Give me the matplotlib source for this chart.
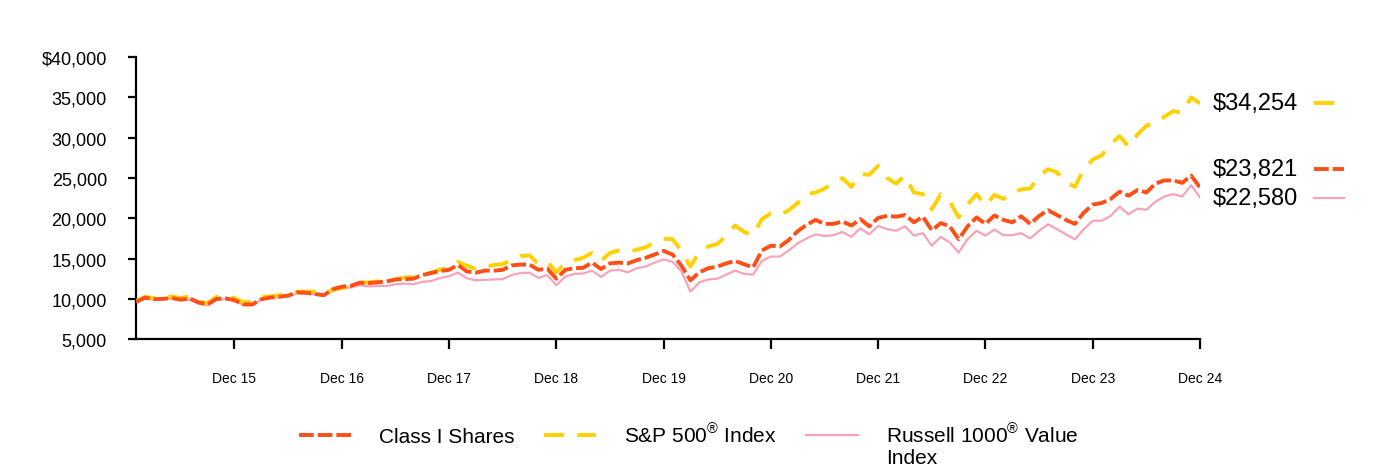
import matplotlib
matplotlib.use("Agg")
import matplotlib.pyplot as plt
import matplotlib.transforms as mtransforms
from matplotlib.lines import Line2D
from matplotlib.ticker import FuncFormatter
import numpy as np

plt.rcParams['font.family'] = ['Liberation Sans', 'DejaVu Sans']
plt.rcParams['mathtext.fontset'] = 'custom'
plt.rcParams['mathtext.rm'] = 'Liberation Sans'

# monthly values, Jan 2015 .. Dec 2024
class_i = [
    9600, 10150, 9950, 10000, 10100, 9900, 10050, 9550, 9300, 10000, 10050, 9850,
    9300, 9300, 9950, 10150, 10250, 10400, 10800, 10750, 10600, 10450, 11200, 11500,
    11600, 12000, 11950, 12050, 12150, 12400, 12450, 12500, 12950, 13200, 13450, 13600,
    14200, 13400, 13250, 13500, 13500, 13600, 14150, 14250, 14250, 13600, 13750, 12500,
    13600, 13800, 13850, 14500, 13700, 14400, 14500, 14400, 14800, 15100, 15500, 15950,
    15500, 14100, 12300, 13300, 13800, 14000, 14400, 14700, 14300, 13900, 16000, 16600,
    16500, 17300, 18400, 19200, 19800, 19300, 19300, 19600, 19100, 19900, 19000, 20050,
    20300, 20200, 20400, 19500, 20200, 18500, 19400, 19000, 17400, 19000, 20100, 19300,
    20350, 19800, 19500, 20250, 19300, 20300, 21000, 20400, 19800, 19300, 20700, 21700,
    21900, 22400, 23300, 22800, 23500, 23200, 24300, 24700, 24700, 24400, 25300, 23821,
]
sp500 = [
    9700, 10250, 10100, 10200, 10300, 10100, 10300, 9700, 9450, 10250, 10300, 10100,
    9600, 9600, 10250, 10300, 10450, 10500, 10900, 10900, 10900, 10700, 11100, 11350,
    11550, 12000, 12050, 12150, 12300, 12400, 12650, 12700, 12950, 13250, 13650, 13800,
    14600, 14100, 13700, 13900, 14200, 14300, 14800, 15300, 15400, 14300, 14600, 13300,
    14400, 14800, 15100, 15700, 14700, 15700, 16000, 15800, 16100, 16400, 17000, 17450,
    17400, 16000, 14000, 15800, 16500, 16800, 17800, 19100, 18300, 17900, 19900, 20600,
    20400, 21000, 21900, 23000, 23200, 23700, 24300, 25000, 23900, 25500, 25400, 26500,
    25000, 24300, 25300, 23200, 23000, 21100, 23000, 22100, 20100, 21700, 23000, 21600,
    22900, 22400, 23200, 23600, 23700, 25200, 26100, 25700, 24500, 23900, 26100, 27300,
    27800, 29200, 30200, 28900, 30400, 31500, 31800, 32600, 33300, 33100, 35000, 34254,
]
russell = [
    9600, 10050, 9900, 9950, 10050, 9850, 9900, 9400, 9200, 9900, 9950, 9800,
    9250, 9200, 9900, 10100, 10200, 10300, 10700, 10650, 10550, 10450, 11000, 11300,
    11400, 11700, 11550, 11600, 11600, 11800, 11900, 11800, 12100, 12200, 12600, 12800,
    13250, 12550, 12300, 12350, 12400, 12450, 12950, 13200, 13250, 12600, 12950, 11700,
    12750, 13100, 13150, 13500, 12700, 13500, 13600, 13300, 13800, 14000, 14500, 14900,
    14600, 13400, 10900, 12050, 12400, 12500, 13000, 13500, 13100, 13000, 14700, 15250,
    15250, 16000, 16900, 17500, 18000, 17800, 17900, 18300, 17700, 18750, 18000, 19050,
    18650, 18450, 19000, 17850, 18150, 16600, 17700, 17000, 15750, 17400, 18450, 17850,
    18600, 17900, 17900, 18150, 17500, 18450, 19250, 18650, 18000, 17400, 18650, 19700,
    19700, 20300, 21450, 20500, 21200, 21050, 22050, 22700, 23000, 22700, 24100, 22580,
]
tick_months = [11, 23, 35, 47, 59, 71, 83, 95, 107, 119]
tick_labels = ['Dec 15', 'Dec 16', 'Dec 17', 'Dec 18', 'Dec 19',
               'Dec 20', 'Dec 21', 'Dec 22', 'Dec 23', 'Dec 24']
end_labels = ['$23,821', '$34,254', '$22,580']
names = ['Class I Shares', r'S&P 500$^{\circledR}$ Index', r'Russell 1000$^{\circledR}$ Value']

months = np.arange(len(class_i))

c_orange = '#FF4F17'
c_yellow = '#FFD100'
c_pink = '#F8A3B9'

fig = plt.figure(figsize=(13.84, 4.77), dpi=100)
ax = fig.add_axes([0.0983, 0.287, 0.7688, 0.591])

ax.plot(months, russell, color=c_pink, lw=1.6, zorder=2)
ax.plot(months, sp500, color=c_yellow, lw=2.8, dashes=(5.2, 3.4), zorder=3)
ax.plot(months, class_i, color=c_orange, lw=2.8, dashes=(3.8, 1.0), zorder=4)

ax.set_xlim(0, 119)
ax.set_ylim(5000, 40000)
ax.set_yticks(range(5000, 40001, 5000))
ax.yaxis.set_major_formatter(FuncFormatter(
    lambda v, p: f'${v:,.0f}' if v == 40000 else f'{v:,.0f}'))
ax.set_xticks(tick_months)
ax.set_xticklabels(tick_labels)

for s in ['top', 'right']:
    ax.spines[s].set_visible(False)
for s in ['left', 'bottom']:
    ax.spines[s].set_linewidth(1.6)
ax.tick_params(axis='y', length=6, width=1.6, pad=15, labelsize=13)
ax.tick_params(axis='x', length=7, width=1.6, pad=16, labelsize=10)

# end value labels with small line samples
trans = mtransforms.blended_transform_factory(ax.transAxes, ax.transData)
series = [(class_i, c_orange, dict(lw=2.8, dashes=(3.8, 1.0)), 13),
          (sp500, c_yellow, dict(lw=2.8, dashes=(5.2, 3.4)), 0),
          (russell, c_pink, dict(lw=1.6), 0)]
for (vals, col, style, dy), lab in zip(series, end_labels):
    t = mtransforms.offset_copy(trans, fig=fig, y=dy, units='points')
    ax.text(1.012, vals[-1], lab, transform=t, va='center', ha='left', fontsize=17)
    ax.add_line(Line2D([1.107, 1.135], [vals[-1], vals[-1]], color=col,
                       transform=t, clip_on=False, **style))

handles = [Line2D([], [], color=c_orange, lw=2.8, dashes=(3.8, 1.0)),
           Line2D([], [], color=c_yellow, lw=2.8, dashes=(5.2, 3.4)),
           Line2D([], [], color=c_pink, lw=1.6)]
leg = fig.legend(handles, names, loc='center', bbox_to_anchor=(0.4975, 0.088), ncol=3,
                 frameon=False, fontsize=15, handlelength=2.5, handletextpad=1.35,
                 columnspacing=1.4)

fig.canvas.draw()
bb = leg.get_texts()[2].get_window_extent().transformed(fig.transFigure.inverted())
fig.text(bb.x0, bb.y0 - 0.004, 'Index', fontsize=15, va='top', ha='left')

fig.savefig('out.png', dpi=100)
